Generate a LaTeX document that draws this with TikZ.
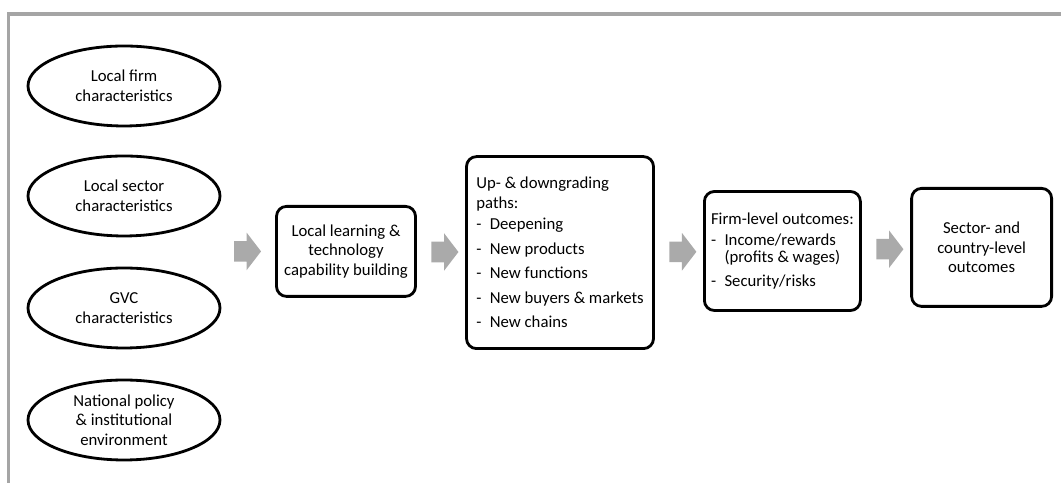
\documentclass[tikz,border=0pt]{standalone}
\usepackage{fontspec}
\setmainfont{Carlito}
\usetikzlibrary{positioning, shapes.geometric, shapes.arrows, calc}
\definecolor{framegray}{RGB}{165, 165, 165}
\definecolor{arrowgray}{RGB}{170, 170, 170}

\begin{document}
\begin{tikzpicture}[font=\fontsize{11.9}{14}\selectfont,
    factor/.style={ellipse, draw, line width=2pt, minimum width=4.8cm, minimum height=2cm, inner sep=0pt, align=center},
    stage/.style={rectangle, rounded corners=0.25cm, draw, line width=2pt, inner sep=0pt, align=center},
    flow/.style={single arrow, fill=arrowgray, inner xsep=0pt, inner ysep=0.25cm, minimum height=0.675cm,
      single arrow head extend=0.2125cm, single arrow tip angle=105}]
  \useasboundingbox (0, 0) rectangle (26.525, 12.075);
  % frame
  \draw[framegray, line width=2.5pt] (0.2125, 0) -- (0.2125, 11.725) -- (26.525, 11.725);
  % influencing factors
  \node[factor] (firm)   at (3.1, 9.925) {Local firm\\characteristics};
  \node[factor] (sector) at (3.1, 7.175) {Local sector\\characteristics};
  \node[factor] (gvc)    at (3.1, 4.375) {GVC\\characteristics};
  \node[factor] (policy) at (3.1, 1.575) {National policy\\\& institutional\\environment};
  % stages
  \node[stage, minimum width=3.475cm, minimum height=2.25cm] (learn) at (8.65, 5.79)
    {Local learning \&\\technology\\capability building};
  \node[stage, minimum width=4.675cm, minimum height=4.8cm, align=left] (paths) at (14.0, 5.76)
    {Up- \& downgrading\\paths:\\[1pt]
     -\enspace Deepening\\[3.5pt]
     -\enspace New products\\[3.5pt]
     -\enspace New functions\\[3.5pt]
     -\enspace New buyers \& markets\\[3.5pt]
     -\enspace New chains};
  \node[stage, minimum width=3.9cm, minimum height=2.975cm, align=left] (firmout) at (19.56, 5.8)
    {Firm-level outcomes:\\[1pt]
     -\enspace Income/rewards\\[-1.5pt]
     \phantom{-\enspace}(profits \& wages)\\[3pt]
     -\enspace Security/risks};
  \node[stage, minimum width=3.5cm, minimum height=2.95cm] (countryout) at (24.54, 5.89)
    {Sector- and\\country-level\\outcomes};
  % block arrows between stages
  \node[flow] (a1) at (6.09, 5.79) {};
  \node[flow] (a2) at ($(learn.east)!0.5!(paths.west)$) {};
  \node[flow] (a3) at ($(paths.east)!0.5!(firmout.west)$) {};
  \node[flow] (a4) at ($(firmout.east)!0.5!(countryout.west)$) {};
\end{tikzpicture}
\end{document}
